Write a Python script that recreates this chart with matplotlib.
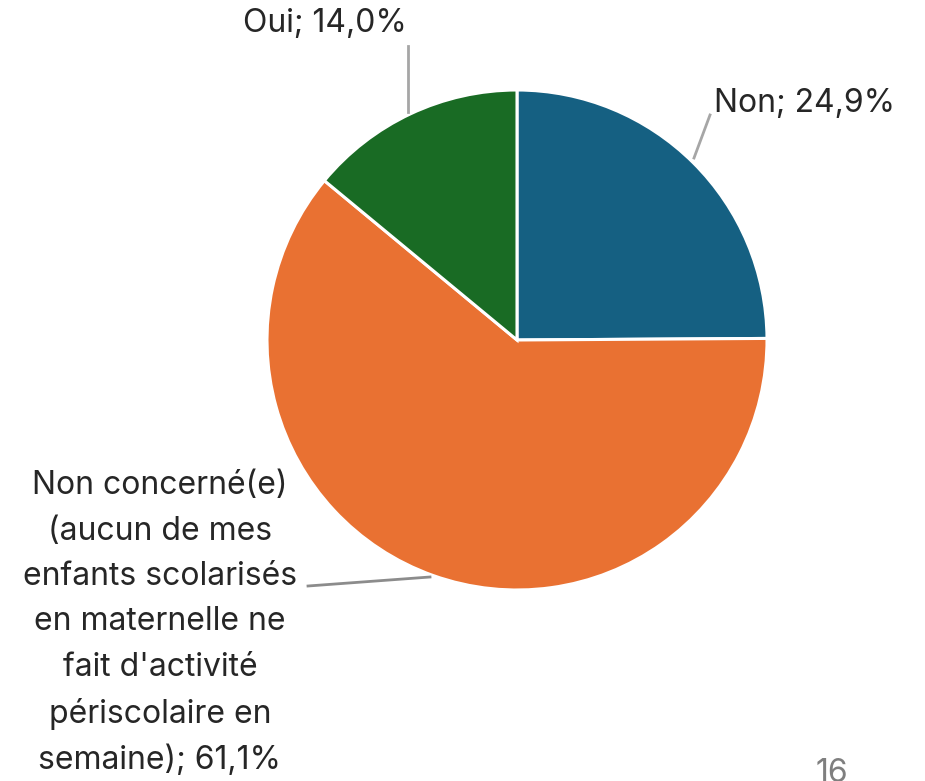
import matplotlib
matplotlib.use("Agg")
import matplotlib.pyplot as plt

plt.rcParams.update({"font.family": ["Inter", "DejaVu Sans"]})

# data (clockwise from 12 o'clock)
labels = [
    "Non",
    "Non concerné(e)\n(aucun de mes\nenfants scolarisés\nen maternelle ne\nfait d'activité\npériscolaire en\nsemaine)",
    "Oui",
]
values = [24.9, 61.1, 14.0]
colors = ["#156082", "#E97132", "#196B24"]
page_number = "16"

W, H = 925, 781
fig = plt.figure(figsize=(W / 100, H / 100), dpi=100)
ax = fig.add_axes([0, 0, 1, 1])

cx, cy, r = 517, H - 340, 250
ax.pie(values, colors=colors, startangle=90, counterclock=False,
       center=(cx, cy), radius=r, frame=True,
       wedgeprops={"edgecolor": "white", "linewidth": 2.2})
ax.set_xlim(0, W)
ax.set_ylim(0, H)
ax.axis("off")

txt = "#262626"
lead = "#a6a6a6"
fs = 23


def pct(v):
    return f"{v:.1f}".replace(".", ",") + "%"


# Oui label
ax.text(325, H - 24, f"{labels[2]}; {pct(values[2])}", ha="center", va="center",
        fontsize=fs, color=txt)
ax.plot([408, 408], [H - 46, H - 112], color=lead, lw=2)

# Non label
ax.text(805, H - 103, f"{labels[0]}; {pct(values[0])}", ha="center", va="center",
        fontsize=fs, color=txt)
ax.plot([710, 694], [H - 115, H - 158], color=lead, lw=2)

# Non concerné label
ax.text(160, H - 623, f"{labels[1]}; {pct(values[1])}", ha="center", va="center",
        fontsize=fs, color=txt, linespacing=1.6)
ax.plot([308, 430], [H - 586, H - 577], color="#8c8c8c", lw=2)

# slide number
ax.text(832, H - 758, page_number, ha="center", va="top", fontsize=fs,
        color="#7f7f7f")

fig.savefig("out.png", dpi=100)
